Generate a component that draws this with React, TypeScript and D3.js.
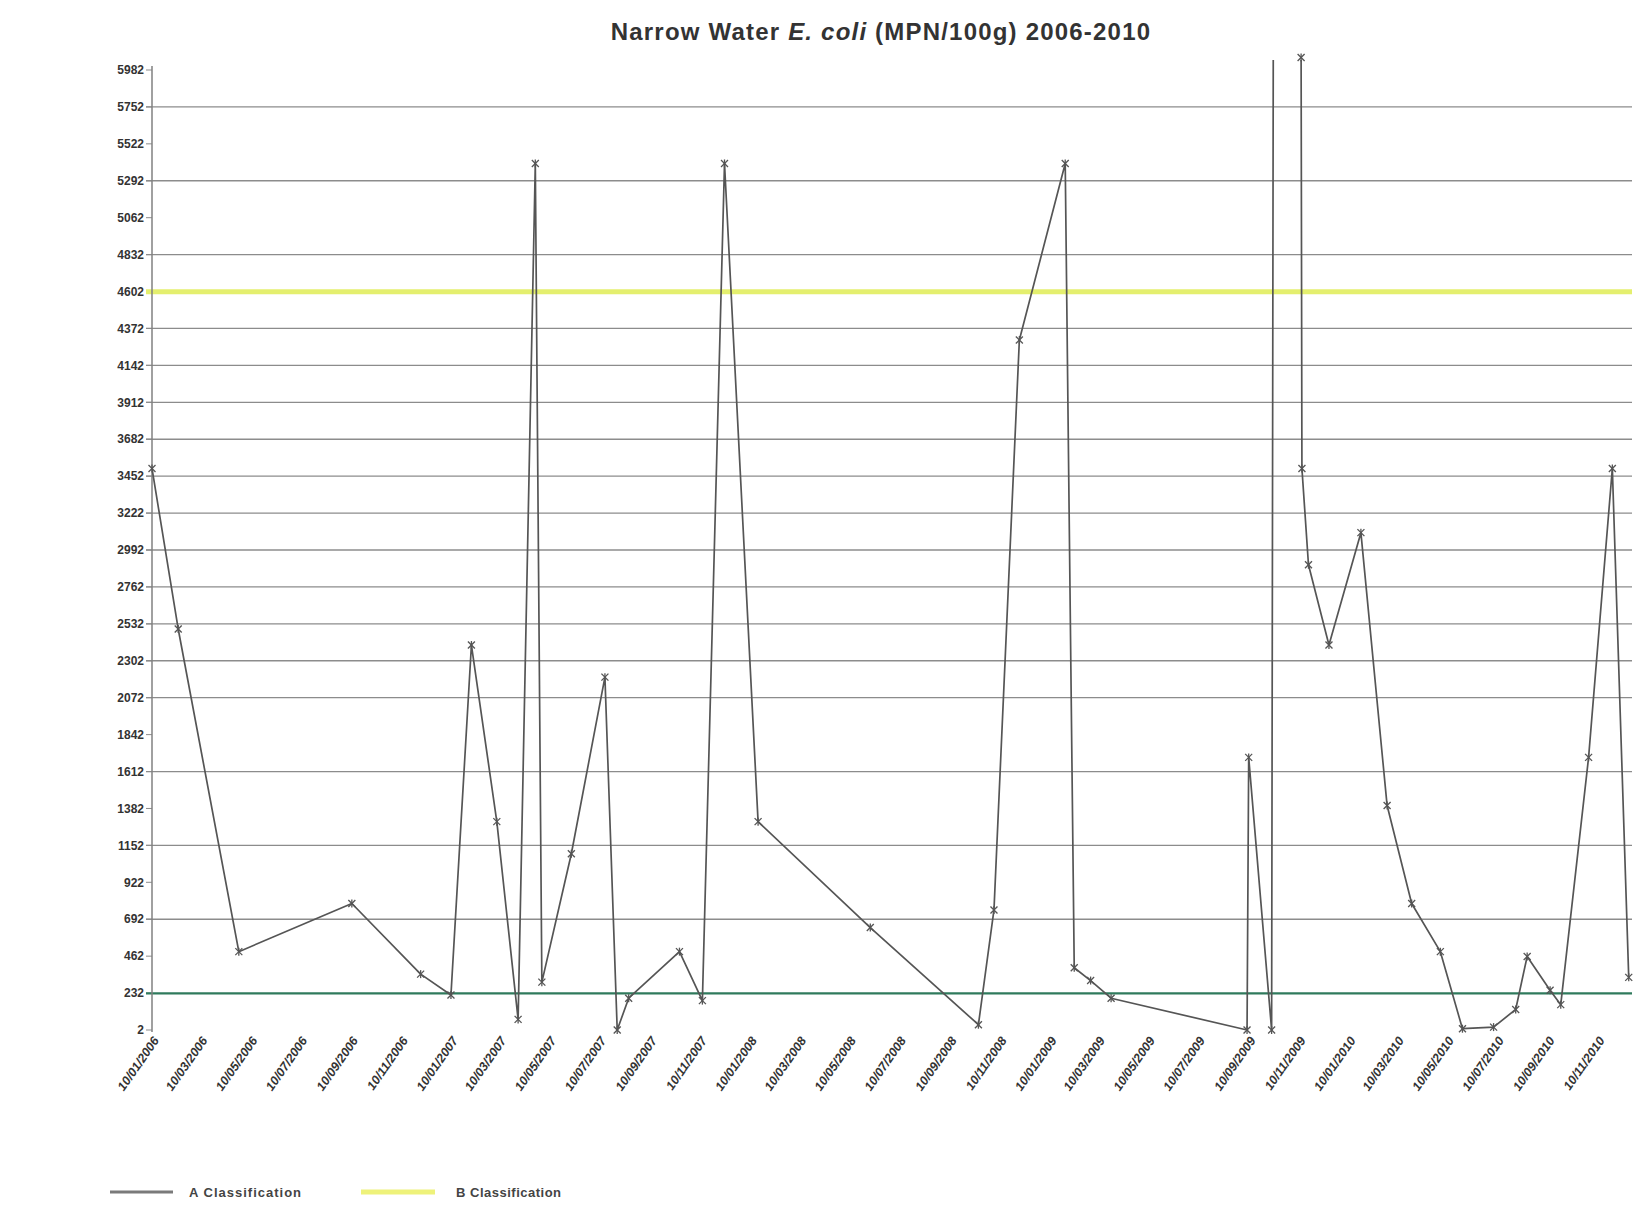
import React from "react";
import * as d3 from "d3";

// ---- data ----
const sampleDates: string[] = [
  "2006-01-10", "2006-02-11", "2006-04-26", "2006-09-11", "2006-12-04", "2007-01-10",
  "2007-02-04", "2007-03-07", "2007-04-02", "2007-04-23", "2007-05-01", "2007-06-06",
  "2007-07-17", "2007-08-01", "2007-08-15", "2007-10-16", "2007-11-13", "2007-12-10",
  "2008-01-20", "2008-06-05", "2008-10-15", "2008-11-03", "2008-12-04", "2009-01-29",
  "2009-02-09", "2009-03-01", "2009-03-26", "2009-09-08", "2009-09-10", "2009-10-08",
  "2009-10-11", "2009-11-13", "2009-11-14", "2009-11-22", "2009-12-17", "2010-01-25",
  "2010-02-26", "2010-03-28", "2010-05-02", "2010-05-29", "2010-07-06", "2010-08-02",
  "2010-08-16", "2010-09-13", "2010-09-26", "2010-10-30", "2010-11-28", "2010-12-18",
];
const ecoliValues: number[] = [
  3500, 2500, 490, 790, 350, 220,
  2400, 1300, 68, 5400, 300, 1100,
  2200, 2, 200, 490, 185, 5400,
  1300, 640, 35, 750, 4300, 5400,
  390, 310, 200, 2, 1700, 2,
  9100, 6060, 3500, 2900, 2400, 3100,
  1400, 790, 490, 10, 20, 130,
  460, 250, 160, 1700, 3500, 330,
];
const yTickLabels: number[] = [
  2, 232, 462, 692, 922, 1152, 1382, 1612, 1842, 2072, 2302, 2532, 2762, 2992,
  3222, 3452, 3682, 3912, 4142, 4372, 4602, 4832, 5062, 5292, 5522, 5752, 5982,
];
const gridValues: number[] = [
  692, 1152, 1612, 2072, 2302, 2532, 2762, 2992, 3222, 3452, 3682, 3912, 4142,
  4372, 4832, 5292, 5752,
];
const xTickLabels: string[] = [
  "10/01/2006", "10/03/2006", "10/05/2006", "10/07/2006", "10/09/2006", "10/11/2006",
  "10/01/2007", "10/03/2007", "10/05/2007", "10/07/2007", "10/09/2007", "10/11/2007",
  "10/01/2008", "10/03/2008", "10/05/2008", "10/07/2008", "10/09/2008", "10/11/2008",
  "10/01/2009", "10/03/2009", "10/05/2009", "10/07/2009", "10/09/2009", "10/11/2009",
  "10/01/2010", "10/03/2010", "10/05/2010", "10/07/2010", "10/09/2010", "10/11/2010",
];
const classA = 230;
const classB = 4600;
const xDomain: string[] = ["2006-01-10", "2010-12-22"];
const yDomain: number[] = [2, 5982];

const W = 1643;
const H = 1228;
const M = { left: 152, right: 1632, top: 70, bottom: 1030 };

const parse = d3.timeParse("%Y-%m-%d");
const parseLabel = d3.timeParse("%d/%m/%Y");

export default function App() {
  const x = d3
    .scaleTime()
    .domain(xDomain.map((d) => parse(d) as Date))
    .range([M.left, M.right]);
  const y = d3.scaleLinear().domain(yDomain).range([M.bottom, M.top]);

  const points = sampleDates.map((d, i) => ({ date: parse(d) as Date, v: ecoliValues[i] }));
  const line = d3
    .line<{ date: Date; v: number }>()
    .x((d) => x(d.date))
    .y((d) => y(d.v));

  const font = "'Liberation Sans', Arial, sans-serif";
  const star = (cx: number, cy: number, k: number) => {
    const r = 3.5;
    return (
      <g key={k} transform={`translate(${cx},${cy})`} stroke="#555" strokeWidth={1.3}>
        <line x1={-r} y1={-r} x2={r} y2={r} />
        <line x1={-r} y1={r} x2={r} y2={-r} />
        <line x1={0} y1={-r - 0.5} x2={0} y2={r + 0.5} />
      </g>
    );
  };

  return (
    <svg
      width={W}
      height={H}
      style={{ position: "absolute", left: 0, top: 0, background: "#fff" }}
      fontFamily={font}
    >
      <rect x={0} y={0} width={W} height={H} fill="#fff" />
      <defs>
        <clipPath id="plotClip">
          <rect x={M.left} y={M.top - 10} width={M.right - M.left} height={M.bottom - M.top + 12} />
        </clipPath>
      </defs>

      {/* title */}
      <text x={881} y={40} textAnchor="middle" fontSize={24} fontWeight="bold" fill="#333" letterSpacing={1.2}>
        Narrow Water <tspan fontStyle="italic">E. coli</tspan> (MPN/100g) 2006-2010
      </text>

      {/* gridlines */}
      {gridValues.map((g) => (
        <line key={g} x1={M.left - 6} x2={M.right} y1={y(g)} y2={y(g)} stroke="#8c8c8c" strokeWidth={1.3} />
      ))}
      {/* y-axis ticks */}
      {yTickLabels.map((t) => (
        <line key={"t" + t} x1={M.left - 6} x2={M.left} y1={y(t)} y2={y(t)} stroke="#8c8c8c" strokeWidth={1} />
      ))}

      {/* classification lines */}
      <line x1={M.left - 6} x2={M.right} y1={y(classB)} y2={y(classB)} stroke="#e4ef6e" strokeWidth={5} />
      <line x1={M.left - 6} x2={M.right} y1={y(classA)} y2={y(classA)} stroke="#2f7a5c" strokeWidth={2.2} />

      {/* y axis */}
      <line x1={M.left} x2={M.left} y1={M.top - 4} y2={M.bottom + 2} stroke="#808080" strokeWidth={1.5} />

      {/* y tick labels */}
      {yTickLabels.map((t) => (
        <text
          key={"l" + t}
          x={M.left - 8}
          y={y(t)}
          dy="0.35em"
          textAnchor="end"
          fontSize={12}
          fontWeight="bold"
          fill="#333"
        >
          {t}
        </text>
      ))}

      {/* x tick labels */}
      {xTickLabels.map((l) => {
        const xp = x(parseLabel(l) as Date);
        return (
          <text
            key={l}
            transform={`translate(${xp + 4},${M.bottom + 8}) rotate(-55)`}
            textAnchor="end"
            dy="0.35em"
            fontSize={12.5}
            fontWeight="bold"
            fontStyle="italic"
            fill="#333"
          >
            {l}
          </text>
        );
      })}

      {/* data series */}
      <g clipPath="url(#plotClip)">
        <path d={line(points) || ""} fill="none" stroke="#555" strokeWidth={1.7} strokeLinejoin="round" />
      </g>
      {points
        .filter((p) => p.v <= 6200)
        .map((p, i) => star(x(p.date), y(p.v), i))}

      {/* legend */}
      <line x1={110} x2={173} y1={1192} y2={1192} stroke="#7a7a7a" strokeWidth={3} />
      <text x={189} y={1192} dy="0.35em" fontSize={13} fontWeight="bold" fill="#444" letterSpacing={1}>
        A Classification
      </text>
      <line x1={361} x2={435} y1={1192} y2={1192} stroke="#eef27a" strokeWidth={5} />
      <text x={456} y={1192} dy="0.35em" fontSize={13} fontWeight="bold" fill="#444" letterSpacing={0.5}>
        B Classification
      </text>
    </svg>
  );
}
